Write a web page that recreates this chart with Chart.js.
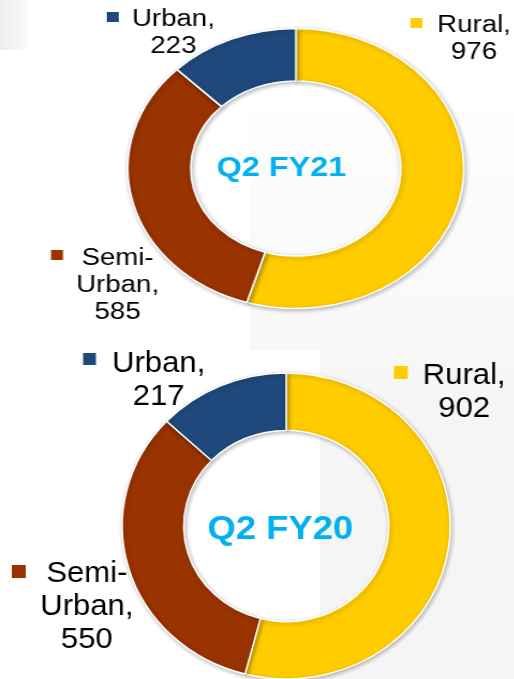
<!DOCTYPE html>
<html>
<head>
<meta charset="utf-8">
<script src="https://cdn.jsdelivr.net/npm/chart.js@4/dist/chart.umd.min.js"></script>
<style>
  html, body { margin: 0; padding: 0; background: #fff; }
  body { width: 514px; height: 679px; position: relative; overflow: hidden; font-family: "Liberation Sans", Arial, sans-serif; }
  .bg { position: absolute; }
  .wrap { position: absolute; left: 0; transform-origin: 0 0; }
  canvas { display: block; }
</style>
</head>
<body>
<div class="bg" style="left:0;top:0;width:28px;height:50px;background:linear-gradient(to right,#eeeeee,#fafafa);"></div>
<div class="bg" style="left:250px;top:110px;width:264px;height:240px;background:linear-gradient(to bottom,#fdfdfd,#f8f8f8);"></div>
<div class="bg" style="left:320px;top:340px;width:194px;height:339px;background:linear-gradient(to bottom,#f8f8f8,#f5f5f5 20%);"></div>

<div class="wrap" id="wrapTop" style="top:0;width:428px;height:340px;transform:scale(1.2,1);">
  <canvas id="chartTop" width="428" height="340"></canvas>
</div>
<div class="wrap" id="wrapBottom" style="top:340px;width:480px;height:339px;transform:scale(1.072,1);">
  <canvas id="chartBottom" width="480" height="339"></canvas>
</div>

<script>
// data
const categories = ['Rural', 'Semi-Urban', 'Urban'];
const fy21Values = [976, 585, 223];
const fy20Values = [902, 550, 217];
const chartTitles = ['Q2 FY21', 'Q2 FY20'];
const sliceColors = ['#FFCC00', '#993300', '#1F497D'];

// label text lines, e.g. "Semi-Urban" -> ["Semi-", "Urban,", "585"]
function labelLines(name, value) {
  const parts = name.split('-');
  const lines = parts.map((p, i) => (i < parts.length - 1 ? p + '-' : p));
  lines[lines.length - 1] += ',';
  lines.push(String(value));
  return lines;
}

const shadowPlugin = {
  id: 'ringShadow',
  beforeDatasetsDraw(chart) {
    const ctx = chart.ctx;
    ctx.save();
    ctx.shadowColor = 'rgba(0,0,0,0.28)';
    ctx.shadowBlur = 4;
    ctx.shadowOffsetX = 1;
    ctx.shadowOffsetY = 1.5;
  },
  afterDatasetsDraw(chart) {
    chart.ctx.restore();
  }
};

const labelPlugin = {
  id: 'sliceLabels',
  afterDraw(chart, args, opts) {
    const ctx = chart.ctx;
    const ds = chart.data.datasets[0];
    ctx.save();
    // centre title
    const area = chart.chartArea;
    ctx.fillStyle = '#00B0F0';
    ctx.font = 'bold ' + opts.titleSize + 'px "Liberation Sans", Arial, sans-serif';
    ctx.textAlign = 'center';
    ctx.textBaseline = 'middle';
    ctx.fillText(opts.title, (area.left + area.right) / 2 + opts.titleDx, (area.top + area.bottom) / 2 + opts.titleDy);

    ctx.font = opts.fontSize + 'px "Liberation Sans", Arial, sans-serif';
    ctx.textBaseline = 'alphabetic';
    chart.data.labels.forEach((name, i) => {
      const pos = opts.positions[name];
      const b = pos.box;
      ctx.fillStyle = ds.backgroundColor[i];
      ctx.fillRect(b[0], b[1], b[2], b[2]);
      ctx.fillStyle = '#000';
      labelLines(name, ds.data[i]).forEach((line, k) => {
        ctx.fillText(line, pos.cx, pos.y + k * opts.lineHeight);
      });
    });
    ctx.restore();
  }
};

function makeDonut(id, values, title, radius, padding, labelOpts) {
  return new Chart(document.getElementById(id), {
    type: 'doughnut',
    data: {
      labels: categories,
      datasets: [{
        data: values,
        backgroundColor: sliceColors,
        borderColor: '#ffffff',
        borderWidth: 1.5
      }]
    },
    options: {
      responsive: false,
      animation: false,
      radius: radius,
      cutout: '62.5%',
      layout: { padding: padding },
      plugins: {
        legend: { display: false },
        tooltip: { enabled: false },
        sliceLabels: Object.assign({ title: title }, labelOpts)
      }
    },
    plugins: [shadowPlugin, labelPlugin]
  });
}

makeDonut('chartTop', fy21Values, chartTitles[0], 140,
  { left: 65, right: 0, top: 0, bottom: 3 },
  {
    titleSize: 27, titleDx: -12, titleDy: 0, fontSize: 23, lineHeight: 27,
    positions: {
      'Rural': { cx: 395, y: 32, box: [342, 18, 10] },
      'Semi-Urban': { cx: 98, y: 265, box: [42.5, 250, 10] },
      'Urban': { cx: 144.5, y: 26, box: [89, 12, 10] }
    }
  });

makeDonut('chartBottom', fy20Values, chartTitles[1], 153,
  { left: 54, right: 0, top: 33, bottom: 0 },
  {
    titleSize: 34, titleDx: -5.5, titleDy: 4, fontSize: 29, lineHeight: 33,
    positions: {
      'Rural': { cx: 433, y: 44, box: [367.5, 26, 13] },
      'Semi-Urban': { cx: 81, y: 242, box: [11, 225, 13] },
      'Urban': { cx: 148, y: 32, box: [77.5, 13, 12] }
    }
  });
</script>
</body>
</html>
